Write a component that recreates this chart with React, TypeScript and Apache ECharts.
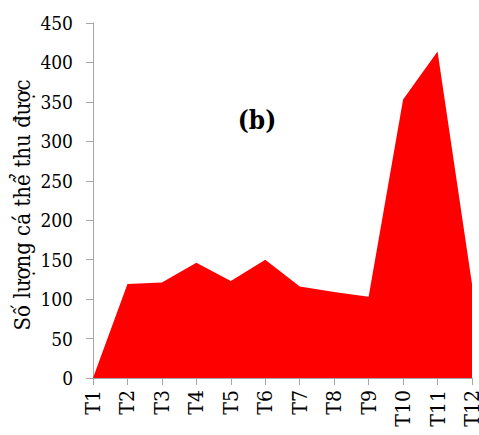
import React, { useEffect, useRef } from "react";
import * as echarts from "echarts";

const categories = ["T1", "T2", "T3", "T4", "T5", "T6", "T7", "T8", "T9", "T10", "T11", "T12"];
const values = [0, 119, 121, 146, 123, 150, 116, 109, 103, 353, 414, 119];
const yAxisName = "Số lượng cá thể thu được";
const panelLabel = "(b)";

export default function App() {
  const ref = useRef<HTMLDivElement>(null);
  useEffect(() => {
    if (!ref.current) return;
    const chart = echarts.init(ref.current, null, { renderer: "svg" });
    const font = "DejaVu Serif Condensed, DejaVu Serif";
    chart.setOption({
      animation: false,
      textStyle: { fontFamily: font },
      grid: { left: 93, right: 7, top: 23, bottom: 57, containLabel: false, outerBoundsMode: "none" },
      xAxis: {
        type: "category",
        data: categories,
        boundaryGap: false,
        axisLine: { lineStyle: { color: "#a6a6a6", width: 1 } },
        axisTick: { show: true, length: 7, inside: false, lineStyle: { color: "#a6a6a6" }, alignWithLabel: true },
        axisLabel: { rotate: 90, fontFamily: font, fontSize: 21, color: "#000", margin: 12, interval: 0 },
        splitLine: { show: false },
      },
      yAxis: {
        type: "value",
        min: 0,
        max: 450,
        interval: 50,
        axisLine: { show: true, lineStyle: { color: "#a6a6a6", width: 1 } },
        axisTick: { show: true, length: 7, lineStyle: { color: "#a6a6a6" } },
        axisLabel: { fontFamily: font, fontSize: 19, color: "#000", margin: 20 },
        splitLine: { show: false },
      },
      series: [
        {
          type: "line",
          data: values,
          symbol: "none",
          lineStyle: { width: 0, color: "#ff0000" },
          areaStyle: { color: "#ff0000", opacity: 1 },
          itemStyle: { color: "#ff0000" },
        },
      ],
      graphic: [
        {
          type: "text",
          x: 22,
          y: 205,
          rotation: Math.PI / 2,
          style: {
            text: yAxisName,
            fontFamily: font,
            fontSize: 22,
            fill: "#000",
            align: "center",
            verticalAlign: "middle",
          },
        },
        {
          type: "text",
          x: 257,
          y: 120,
          style: {
            text: panelLabel,
            fontFamily: font,
            fontSize: 26,
            fontWeight: "bold",
            fill: "#000",
            align: "center",
            verticalAlign: "middle",
          },
        },
      ],
    });
    return () => chart.dispose();
  }, []);
  return <div ref={ref} style={{ width: 479, height: 435, position: "absolute", left: 0, top: 0 }} />;
}
